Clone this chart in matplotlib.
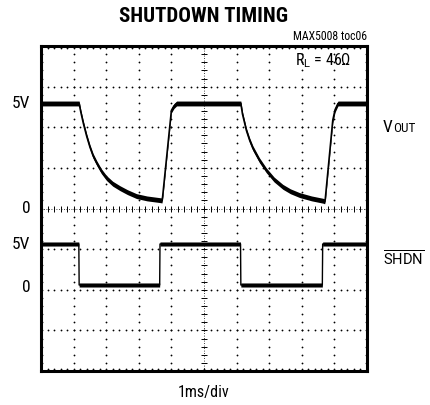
import matplotlib.pyplot as plt
import numpy as np

FONTS = ['Roboto Condensed', 'Liberation Sans Narrow', 'Roboto', 'DejaVu Sans']
plt.rcParams['font.family'] = FONTS
plt.rcParams['mathtext.fontset'] = 'custom'
plt.rcParams['mathtext.rm'] = 'Roboto'

# VOUT trace (time in ms, volts)
vout_t = [0.0, 1.17, 1.22, 1.30, 1.40, 1.50, 1.60, 1.71, 1.85, 2.01, 2.20,
          2.42, 2.65, 2.93, 3.25, 3.64, 3.71, 3.73, 4.00, 4.08, 4.16,
          6.13, 6.18, 6.30, 6.40, 6.50, 6.70, 6.91, 7.15, 7.42, 7.65,
          7.93, 8.30, 8.65, 8.70, 8.72, 8.95, 9.02, 9.11, 10.0]
vout_v = [5.0, 5.0, 4.6, 4.05, 3.45, 2.93, 2.5, 2.16, 1.78, 1.45, 1.18,
          0.97, 0.78, 0.59, 0.48, 0.40, 0.38, 0.55, 4.67, 4.88, 5.0,
          5.0, 4.5, 3.72, 3.25, 2.87, 2.3, 1.82, 1.38, 1.03, 0.82,
          0.64, 0.48, 0.37, 0.34, 0.45, 4.2, 4.7, 5.0, 5.0]

# SHDN trace
shdn_t = [0.0, 1.16, 1.17, 3.64, 3.65, 6.12, 6.13, 8.63, 8.64, 10.0]
shdn_v = [5, 5, 0, 0, 5, 5, 0, 0, 5, 5]

# screen placement (divisions)
VOUT_ZERO, VOUT_SCALE = 4.0, 0.517
SHDN_ZERO, SHDN_SCALE = 2.117, 0.2018

fig = plt.figure(figsize=(4.31, 4.05), dpi=100)
ax = fig.add_axes([41 / 431, 34 / 405, 326 / 431, 325 / 405])
ax.set_xlim(0, 10)
ax.set_ylim(0, 8)
ax.set_xticks([])
ax.set_yticks([])
for s in ax.spines.values():
    s.set_linewidth(2.2)

# graticule dots
xm = np.arange(0, 10.01, 0.2)
ym = np.arange(0, 8.01, 0.2)
for gx in range(1, 10):
    if gx != 5:
        ax.plot([gx] * len(ym), ym, 'o', color='k', ms=1.3, mew=0)
for gy in range(1, 8):
    if gy != 4:
        ax.plot(xm, [gy] * len(xm), 'o', color='k', ms=1.3, mew=0)
# centre axes with ticks
ax.plot([5, 5], [0, 8], color='k', lw=0.6, ls=(0, (1, 2)))
ax.plot([0, 10], [4, 4], color='k', lw=0.6, ls=(0, (1, 2)))
ax.plot([5] * len(ym), ym, '_', color='k', ms=4, mew=0.7)
ax.plot(xm, [4] * len(xm), '|', color='k', ms=4, mew=0.7)
# border ticks
ax.plot(xm, [0.04] * len(xm), 'o', color='k', ms=1.3, mew=0)
ax.plot(xm, [7.96] * len(xm), 'o', color='k', ms=1.3, mew=0)
ax.plot([0.04] * len(ym), ym, 'o', color='k', ms=1.3, mew=0)
ax.plot([9.96] * len(ym), ym, 'o', color='k', ms=1.3, mew=0)

# traces
vt = np.array(vout_t)
vd = VOUT_ZERO + np.array(vout_v) * VOUT_SCALE
ax.fill_between(vt, vd - 0.06, vd + 0.06, color='k', lw=0)
ax.plot(vt, vd, color='k', lw=1.2)
st = np.array(shdn_t)
sd = SHDN_ZERO + np.array(shdn_v) * SHDN_SCALE
ax.fill_between(st, sd - 0.05, sd + 0.05, color='k', lw=0)
ax.plot(st, sd, color='k', lw=1.0)

# level labels
tr = ax.get_yaxis_transform()
lab = dict(transform=tr, ha='right', va='center', fontsize=12.5)
ax.text(-0.033, VOUT_ZERO + 5 * VOUT_SCALE, '5V', **lab)
ax.text(-0.033, VOUT_ZERO, '0', **lab)
ax.text(-0.033, SHDN_ZERO + 5 * SHDN_SCALE, '5V', **lab)
ax.text(-0.033, SHDN_ZERO - 0.07, '0', **lab)

vtxt = ax.text(1.049, 5.8, 'V', transform=tr, ha='left', va='bottom',
               fontsize=12.5)
ax.annotate('OUT', xy=(1, 0), xycoords=vtxt, ha='left', va='bottom',
            fontsize=9.5)
ax.text(1.049, 2.6, r'$\overline{\mathrm{SHDN}}$', transform=tr, ha='left',
        va='baseline', fontsize=10.5)

ax.text(0.951, 0.955, r'R$_\mathrm{L}$ = 46Ω', transform=ax.transAxes,
        ha='right', va='center', fontsize=11.5)

fig.text(204 / 431, 1 - 16 / 405, 'SHUTDOWN TIMING', ha='center', va='center',
         fontsize=15, fontweight='heavy')
fig.text(367 / 431, 1 - 36 / 405, 'MAX5008 toc06', ha='right', va='center',
         fontsize=8.5)
fig.text(204 / 431, 1 - 392 / 405, '1ms/div', ha='center', va='center',
         fontsize=11.5)

fig.savefig('out.png', dpi=100)
